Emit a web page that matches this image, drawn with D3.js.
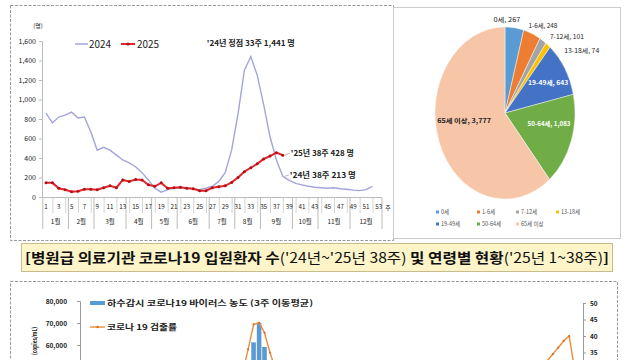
<!DOCTYPE html>
<html>
<head>
<meta charset="utf-8">
<script src="https://cdn.jsdelivr.net/npm/d3@7"></script>
<style>
  body { margin: 0; background: #fff; }
  svg { display: block; font-family: "Noto Sans CJK KR", "Noto Sans", sans-serif; }
</style>
</head>
<body>
<div id="chart"></div>
<script>
// ---- data ----
const weekTicks = d3.range(1, 54, 2);
const monthNames = ["1월", "2월", "3월", "4월", "5월", "6월", "7월", "8월", "9월", "10월", "11월", "12월"];
const monthBounds = [0.5, 4.5, 8.5, 13.5, 17.5, 21.5, 26.5, 30.5, 34.5, 39.5, 43.5, 48.5, 53.5];
const topYTicks = [0, 200, 400, 600, 800, 1000, 1200, 1400, 1600];

const cases2024 = [860, 760, 820, 840, 870, 810, 820, 670, 480, 510, 480, 430, 380, 350, 310, 250, 175, 90, 50, 75,
  90, 95, 95, 85, 75, 90, 110, 160, 250, 480, 850, 1300, 1441, 1250, 950, 620, 380, 213, 170, 140,
  125, 110, 100, 95, 90, 95, 85, 80, 70, 65, 75, 110];
const cases2025 = [145, 145, 90, 75, 55, 60, 80, 80, 75, 95, 115, 95, 175, 160, 180, 175, 125, 110, 145, 90,
  95, 100, 90, 85, 65, 65, 95, 105, 115, 150, 200, 260, 300, 340, 390, 420, 455, 428];

const ageGroups = ["0세", "1-6세", "7-12세", "13-18세", "19-49세", "50-64세", "65세 이상"];
const ageCounts = [267, 248, 101, 74, 643, 1083, 3777];

// lower chart (cut off by the frame) : week index from Jan 2024
const sewageIdx = [31, 32, 33];
const sewageVal = [61000, 70000, 59000];
const posIdxA = [29, 30, 31, 32, 33, 34, 35];
const posValA = [29, 36, 43.5, 44, 41, 35, 30];
const posIdxB = [84, 85, 86, 87, 88, 89, 90];
const posValB = [30, 32.5, 34.5, 36.5, 38.5, 40, 30];
const leftTicks = [60000, 70000, 80000];
const rightTicks = [35, 40, 45, 50];

const ageColors = ["#5b9bd5", "#ed7d31", "#a5a5a5", "#ffc000", "#4472c4", "#70ad47", "#f7c6a8"];
const ink = "#222";

const svg = d3.select("#chart").append("svg")
  .attr("width", 640).attr("height", 360);

function fit(sel, w) {
  return sel.attr("textLength", w).attr("lengthAdjust", "spacingAndGlyphs");
}

// ---- frames ----
svg.append("rect").attr("x", 10.5).attr("y", 5.5).attr("width", 383).attr("height", 235)
  .attr("fill", "none").attr("stroke", "#999").attr("stroke-dasharray", "3,1.5");
svg.append("rect").attr("x", 393.5).attr("y", 7.5).attr("width", 227).attr("height", 231)
  .attr("fill", "none").attr("stroke", "#ccc");

// ---- weekly line chart ----
const x = d3.scaleLinear().domain([0.5, 53.5]).range([42.8, 382]);
const y = d3.scaleLinear().domain([0, 1600]).range([197, 41]);

const yAxis = svg.append("g").attr("transform", "translate(42,0)")
  .call(d3.axisLeft(y).tickValues(topYTicks).tickFormat(d3.format(",")).tickSize(3).tickPadding(3));
yAxis.select(".domain").attr("stroke", "#bbb");
yAxis.selectAll(".tick line").attr("stroke", "#bbb");
yAxis.selectAll("text").attr("fill", ink).attr("font-size", 7).attr("font-family", "Noto Sans CJK KR");

svg.append("text").attr("x", 38).attr("y", 28).attr("text-anchor", "middle")
  .attr("font-size", 6).attr("fill", ink).text("(명)");

// x axis baseline and category separators
svg.append("line").attr("x1", x(0.5)).attr("x2", x(53.5)).attr("y1", 197.5).attr("y2", 197.5)
  .attr("stroke", "#bbb");
svg.append("g").selectAll("line").data(d3.range(2, 54, 2)).join("line")
  .attr("x1", d => x(d) + 0.5).attr("x2", d => x(d) + 0.5)
  .attr("y1", 198).attr("y2", 213).attr("stroke", "#d4d4d4");
svg.append("g").selectAll("line").data(monthBounds).join("line")
  .attr("x1", d => x(d)).attr("x2", d => x(d))
  .attr("y1", 198).attr("y2", 229).attr("stroke", "#bbb");
svg.append("g").selectAll("text").data(weekTicks).join("text")
  .attr("x", d => x(d)).attr("y", 209).attr("text-anchor", "middle")
  .attr("font-size", 6.2).attr("fill", ink).text(d => d);
svg.append("g").selectAll("text").data(monthNames).join("text")
  .attr("x", (d, i) => (x(monthBounds[i]) + x(monthBounds[i + 1])) / 2).attr("y", 224)
  .attr("text-anchor", "middle").attr("font-size", 6.5).attr("fill", ink).text(d => d);
svg.append("text").attr("x", 388).attr("y", 210).attr("text-anchor", "middle")
  .attr("font-size", 6).attr("fill", ink).text("주");

const line = d3.line().x((d, i) => x(i + 1)).y(d => y(d));
svg.append("path").datum(cases2024).attr("d", line)
  .attr("fill", "none").attr("stroke", "#a3a4dc").attr("stroke-width", 1.4);
svg.append("path").datum(cases2025).attr("d", line)
  .attr("fill", "none").attr("stroke", "#e3262b").attr("stroke-width", 2);
svg.append("g").selectAll("circle").data(cases2025).join("circle")
  .attr("cx", (d, i) => x(i + 1)).attr("cy", d => y(d)).attr("r", 1.5).attr("fill", "#b01218");

// legend
svg.append("line").attr("x1", 75).attr("x2", 88).attr("y1", 44).attr("y2", 44)
  .attr("stroke", "#a3a4dc").attr("stroke-width", 1.5);
fit(svg.append("text").attr("x", 89).attr("y", 48).attr("font-size", 10).attr("fill", ink).text("2024"), 22);
svg.append("line").attr("x1", 121).attr("x2", 135).attr("y1", 44).attr("y2", 44)
  .attr("stroke", "#e3262b").attr("stroke-width", 2);
svg.append("circle").attr("cx", 128).attr("cy", 44).attr("r", 1.6).attr("fill", "#b01218");
fit(svg.append("text").attr("x", 137).attr("y", 48).attr("font-size", 10).attr("fill", ink).text("2025"), 22);

// annotations
const peakWeek = cases2024.indexOf(d3.max(cases2024)) + 1;
fit(svg.append("text").attr("x", x(peakWeek) - 44).attr("y", 46).attr("font-size", 7.5)
  .attr("font-weight", "bold").attr("fill", ink)
  .text(`'24년 정점 ${peakWeek}주 ${d3.format(",")(d3.max(cases2024))} 명`), 88);
const lastWeek = cases2025.length;
const a25 = [x(lastWeek) + 8, y(cases2025[lastWeek - 1]) + 1];
const a24 = [x(lastWeek) + 7, y(cases2024[lastWeek - 1]) + 2];
svg.append("line").attr("x1", x(lastWeek) + 2).attr("y1", y(cases2025[lastWeek - 1]))
  .attr("x2", a25[0] - 1).attr("y2", a25[1] - 3).attr("stroke", "#888").attr("stroke-width", 0.6);
svg.append("line").attr("x1", x(lastWeek) + 2).attr("y1", y(cases2024[lastWeek - 1]))
  .attr("x2", a24[0] - 1).attr("y2", a24[1] - 3).attr("stroke", "#888").attr("stroke-width", 0.6);
fit(svg.append("text").attr("x", a25[0]).attr("y", a25[1]).attr("font-size", 7.5)
  .attr("font-weight", "bold").attr("fill", ink)
  .text(`'25년 ${lastWeek}주 ${cases2025[lastWeek - 1]} 명`), 63);
fit(svg.append("text").attr("x", a24[0]).attr("y", a24[1]).attr("font-size", 7.5)
  .attr("font-weight", "bold").attr("fill", ink)
  .text(`'24년 ${lastWeek}주 ${cases2024[lastWeek - 1]} 명`), 66);

// ---- age pie (drawn squeezed like the source) ----
const cx = 505, cy = 113, R = 70, squash = 1.23;
const pie = d3.pie().sort(null).value(d => d)(ageCounts);
const arc = d3.arc().innerRadius(0).outerRadius(R);
svg.append("g").attr("transform", `translate(${cx},${cy}) scale(1,${squash})`)
  .selectAll("path").data(pie).join("path")
  .attr("d", arc).attr("fill", (d, i) => ageColors[i])
  .attr("stroke", "#fff").attr("stroke-width", 0.4);

const lab = (i) => `${ageGroups[i]}, ${d3.format(",")(ageCounts[i])}`;
// outside labels for the small slices
const outside = [
  { i: 0, dx: -8, dy: -1, anchor: "middle", w: 27 },
  { i: 1, dx: -5, dy: -2, anchor: "start", w: 29 },
  { i: 2, dx: 5, dy: 2, anchor: "start", w: 34 },
  { i: 3, dx: 14, dy: 11, anchor: "start", w: 35 }
];
const outerArc = d3.arc().innerRadius(R * 1.05).outerRadius(R * 1.05);
outside.forEach(o => {
  const c = outerArc.centroid(pie[o.i]);
  fit(svg.append("text").attr("x", cx + c[0] + o.dx).attr("y", cy + c[1] * squash + o.dy)
    .attr("text-anchor", o.anchor).attr("font-size", 6).attr("fill", ink).text(lab(o.i)), o.w);
});
const inArc = d3.arc().innerRadius(R * 0.62).outerRadius(R * 0.62);
[[4, "#fff", 6, -2, 40], [5, "#fff", 3, -6, 43], [6, ink, 0, -10, 54]].forEach(([i, col, dx, dy, w]) => {
  const c = inArc.centroid(pie[i]);
  fit(svg.append("text").attr("x", cx + c[0] + dx).attr("y", cy + c[1] * squash + dy + 2)
    .attr("text-anchor", "middle").attr("font-size", 6).attr("font-weight", "bold")
    .attr("fill", col).text(lab(i)), w);
});

// pie legend
const legCols = [437, 478, 517, 557];
const pieLeg = svg.append("g").selectAll("g").data(ageGroups).join("g")
  .attr("transform", (d, i) => `translate(${legCols[i % 4]},${i < 4 ? 214 : 226})`);
pieLeg.append("rect").attr("x", -1).attr("y", -3.5).attr("width", 3).attr("height", 3)
  .attr("fill", (d, i) => ageColors[i]);
pieLeg.append("text").attr("x", 4).attr("y", 0).attr("font-size", 5.5).attr("fill", "#555")
  .text(d => d);

// ---- title banner ----
svg.append("rect").attr("x", 21.5).attr("y", 243.5).attr("width", 591).attr("height", 28)
  .attr("fill", "#fdf4c9").attr("stroke", "#c9bb8e");
const title = svg.append("text").attr("x", 25).attr("y", 263).attr("font-size", 14)
  .attr("fill", "#111");
title.append("tspan").attr("font-weight", "bold").text("[병원급 의료기관 코로나19 입원환자 수");
title.append("tspan").attr("font-weight", "normal").text("('24년~'25년 38주)");
title.append("tspan").attr("font-weight", "bold").text(" 및 연령별 현황");
title.append("tspan").attr("font-weight", "normal").text("('25년 1~38주)");
title.append("tspan").attr("font-weight", "bold").text("]");
fit(title, 584);

// ---- lower chart (sewage concentration vs positivity), cut by the page ----
svg.append("rect").attr("x", 10.5).attr("y", 281.5).attr("width", 607).attr("height", 120)
  .attr("fill", "none").attr("stroke", "#999").attr("stroke-dasharray", "3,1.5");

const xb = d3.scaleLinear().domain([0, 91]).range([85, 580]);
const yl = d3.scaleLinear().domain([0, 80000]).range([477, 301]);
const yr = d3.scaleLinear().domain([0, 50]).range([468, 303]);

const la = svg.append("g").attr("transform", "translate(80,0)")
  .call(d3.axisLeft(yl).tickValues(leftTicks).tickFormat(d3.format(",")).tickSize(3).tickPadding(10));
la.select(".domain").attr("stroke", "#999");
la.selectAll(".tick line").attr("stroke", "#999");
la.selectAll("text").attr("fill", ink).attr("font-size", 6.5).attr("font-weight", "bold")
  .attr("font-family", "Noto Sans CJK KR");
const ra = svg.append("g").attr("transform", "translate(583,0)")
  .call(d3.axisRight(yr).tickValues(rightTicks).tickSize(3).tickPadding(4));
ra.select(".domain").attr("stroke", "#999");
ra.selectAll(".tick line").attr("stroke", "#999");
ra.selectAll("text").attr("fill", ink).attr("font-size", 6.5).attr("font-weight", "bold")
  .attr("font-family", "Noto Sans CJK KR");
fit(svg.append("text").attr("transform", "translate(37,327) rotate(-90)").attr("text-anchor", "end")
  .attr("font-size", 6.5).attr("font-weight", "bold").attr("fill", ink).text("(copies/mL)"), 28);

svg.append("g").selectAll("rect").data(sewageIdx).join("rect")
  .attr("x", d => xb(d) - 2).attr("width", 4)
  .attr("y", (d, i) => yl(sewageVal[i])).attr("height", (d, i) => yl(0) - yl(sewageVal[i]))
  .attr("fill", "#5b9bd5").attr("stroke", "#3f7fbf").attr("stroke-width", 0.4);

const pline = d3.line().x(d => xb(d[0])).y(d => yr(d[1]));
[[posIdxA, posValA], [posIdxB, posValB]].forEach(([ix, vals]) => {
  const pts = ix.map((d, i) => [d, vals[i]]);
  svg.append("path").datum(pts).attr("d", pline)
    .attr("fill", "none").attr("stroke", "#ed8b3a").attr("stroke-width", 1.4);
  svg.append("g").selectAll("circle").data(pts).join("circle")
    .attr("cx", d => xb(d[0])).attr("cy", d => yr(d[1])).attr("r", 1.1).attr("fill", "#d96f1c");
});

// lower legend
svg.append("rect").attr("x", 90).attr("y", 301).attr("width", 15).attr("height", 4).attr("fill", "#5b9bd5");
fit(svg.append("text").attr("x", 107).attr("y", 306).attr("font-size", 8).attr("font-weight", "bold")
  .attr("fill", ink).text("하수감시 코로나19 바이러스 농도 (3주 이동평균)"), 206);
svg.append("line").attr("x1", 90).attr("x2", 105).attr("y1", 327).attr("y2", 327)
  .attr("stroke", "#ed8b3a").attr("stroke-width", 1.4);
svg.append("circle").attr("cx", 97.5).attr("cy", 327).attr("r", 1.2).attr("fill", "#d96f1c");
fit(svg.append("text").attr("x", 107).attr("y", 330).attr("font-size", 8).attr("font-weight", "bold")
  .attr("fill", ink).text("코로나 19 검출률"), 70);
</script>
</body>
</html>
